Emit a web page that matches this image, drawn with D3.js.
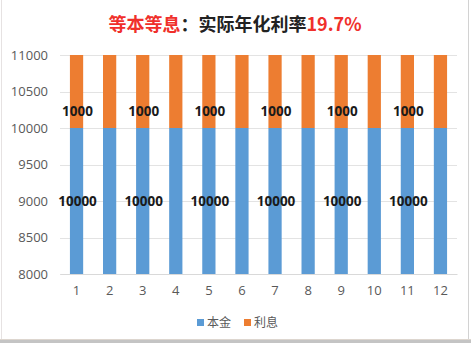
<!DOCTYPE html>
<html>
<head>
<meta charset="utf-8">
<script src="https://cdn.jsdelivr.net/npm/d3@7"></script>
<style>
  html, body { margin: 0; padding: 0; background: #fff; }
  svg { display: block; }
</style>
</head>
<body>
<svg id="chart" width="471" height="343"></svg>
<script>
const months = ["1","2","3","4","5","6","7","8","9","10","11","12"];
const principal = [10000,10000,10000,10000,10000,10000,10000,10000,10000,10000,10000,10000];
const interest = [1000,1000,1000,1000,1000,1000,1000,1000,1000,1000,1000,1000];
const yTicks = [8000,8500,9000,9500,10000,10500,11000];
const seriesNames = ["本金","利息"];
const labelShown = [true,false,true,false,true,false,true,false,true,false,true,false];

const colors = ["#5b9bd5", "#ed7d31"];
const font = "'Noto Sans CJK SC', 'Open Sans', sans-serif";
const numFont = "'Open Sans', 'Noto Sans CJK SC', sans-serif";

const svg = d3.select("#chart");
const W = 471, H = 343;

// frame
svg.append("rect").attr("x",0).attr("y",0).attr("width",W).attr("height",H).attr("fill","#fff");
svg.append("line").attr("x1",1.5).attr("x2",1.5).attr("y1",0).attr("y2",340).attr("stroke","#e6e2e2");
svg.append("line").attr("x1",468.5).attr("x2",468.5).attr("y1",0).attr("y2",340).attr("stroke","#d2d2d2");
svg.append("rect").attr("x",0).attr("y",340).attr("width",W).attr("height",3).attr("fill","#c4c4c4");
svg.append("line").attr("x1",0).attr("x2",W).attr("y1",339.5).attr("y2",339.5).attr("stroke","#ddd6cf");

const x = d3.scaleBand().domain(months).range([60, 457]).paddingInner(0.6).paddingOuter(0.3);
const y = d3.scaleLinear().domain([8000, 11000]).range([274, 55]);

// gridlines
svg.append("g").selectAll("line").data(yTicks).join("line")
  .attr("x1", 60).attr("x2", 457)
  .attr("y1", d => Math.round(y(d)) + 0.5).attr("y2", d => Math.round(y(d)) + 0.5)
  .attr("stroke", "#e3e3e3").attr("stroke-width", 1);

// y axis
const yAxis = d3.axisLeft(y).tickValues(yTicks).tickSize(0).tickPadding(12).tickFormat(d3.format("d"));
const gy = svg.append("g").attr("transform", "translate(60,0)").call(yAxis);
gy.select(".domain").remove();
gy.selectAll("text").attr("font-family", numFont).attr("font-size", 13).attr("fill", "#595959");

// x axis
const xAxis = d3.axisBottom(x).tickSize(0).tickPadding(12);
const gx = svg.append("g").attr("transform", "translate(0,274)").call(xAxis);
gx.select(".domain").attr("stroke", "#d9d9d9");
gx.selectAll("text").attr("font-family", numFont).attr("font-size", 13).attr("fill", "#595959");

// stacked bars
const data = months.map((m, i) => ({ m, p: principal[i], it: interest[i], show: labelShown[i] }));
svg.append("g").selectAll("rect").data(data).join("rect")
  .attr("x", d => x(d.m)).attr("width", x.bandwidth())
  .attr("y", d => y(d.p)).attr("height", d => y(8000) - y(d.p))
  .attr("fill", colors[0]);
svg.append("g").selectAll("rect").data(data).join("rect")
  .attr("x", d => x(d.m)).attr("width", x.bandwidth())
  .attr("y", d => y(d.p + d.it)).attr("height", d => y(d.p) - y(d.p + d.it))
  .attr("fill", colors[1]);

// labels
const lab = svg.append("g").attr("font-family", numFont).attr("font-weight", "bold")
  .attr("font-size", 13.5).attr("fill", "#1a1a1a").attr("text-anchor", "middle");
lab.selectAll("text.p").data(data.filter(d => d.show)).join("text").attr("class","p")
  .attr("x", d => x(d.m) + x.bandwidth() / 2 + 1)
  .attr("y", d => (y(8000) + y(d.p)) / 2)
  .attr("dy", "0.36em").text(d => d.p);
lab.selectAll("text.i").data(data.filter(d => d.show)).join("text").attr("class","i")
  .attr("x", d => x(d.m) + x.bandwidth() / 2 + 1)
  .attr("y", d => y(d.p + d.it * 0.23))
  .attr("dy", "0.36em").text(d => d.it);

// title
const title = svg.append("text").attr("x", 235).attr("y", 25).attr("dy", "0.36em")
  .attr("text-anchor", "middle").attr("font-family", font).attr("font-weight", "bold").attr("font-size", 18);
title.append("tspan").attr("fill", "#f0302b").text("等本等息");
title.append("tspan").attr("fill", "#222").text("：实际年化利率");
title.append("tspan").attr("fill", "#f0302b").text("19.7%");

// legend
const legend = svg.append("g").attr("font-family", font).attr("font-size", 12).attr("fill", "#595959");
const legX = [197, 244];
seriesNames.forEach((n, i) => {
  legend.append("rect").attr("x", legX[i]).attr("y", 319).attr("width", 7).attr("height", 7).attr("fill", colors[i]);
  legend.append("text").attr("x", legX[i] + 10).attr("y", 323).attr("dy", "0.36em").text(n);
});
</script>
</body>
</html>
